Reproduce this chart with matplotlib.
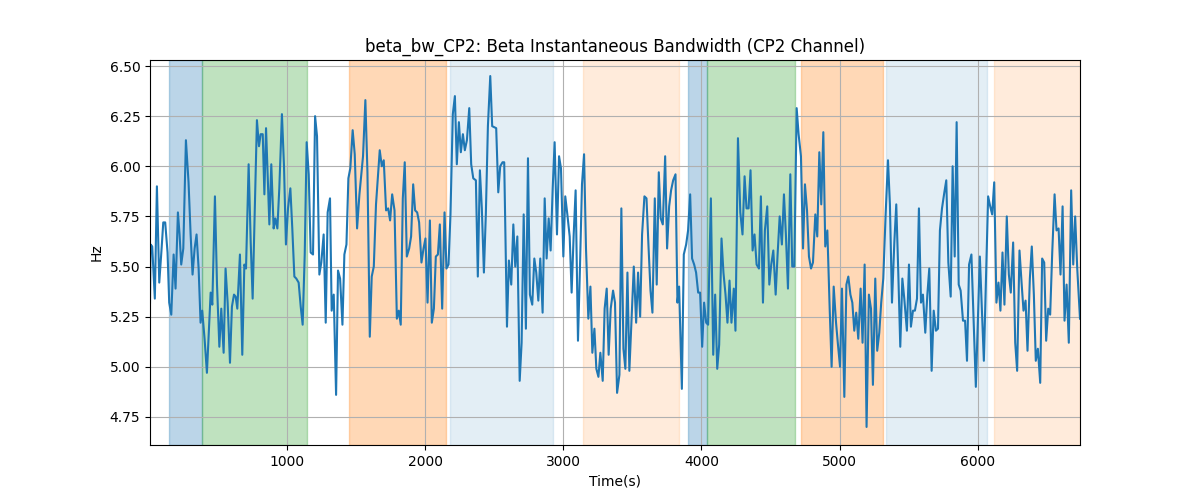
import matplotlib
matplotlib.use("Agg")
import matplotlib.pyplot as plt

# beta bandwidth samples (time in s, value in Hz)
times = [8, 12, 24, 43, 58, 75, 92, 104, 118, 135, 147, 162, 179, 193, 210, 222, 234, 249, 268, 287,
         302, 316, 331, 345, 360, 374, 386, 403, 420, 435, 447, 459, 478, 493, 510, 524, 541, 555, 570, 587,
         601, 616, 628, 640, 659, 676, 691, 703, 722, 737, 751, 766, 782, 797, 809, 824, 836, 848, 872, 886,
         903, 915, 930, 944, 963, 978, 992, 1007, 1024, 1038, 1053, 1067, 1084, 1099, 1113, 1128, 1142, 1157, 1171, 1188,
         1203, 1217, 1234, 1248, 1265, 1280, 1294, 1311, 1323, 1338, 1355, 1369, 1384, 1401, 1415, 1430, 1444, 1458, 1475, 1490,
         1507, 1524, 1550, 1567, 1582, 1599, 1613, 1628, 1644, 1671, 1686, 1700, 1717, 1732, 1746, 1761, 1778, 1795, 1809, 1823,
         1838, 1852, 1867, 1884, 1898, 1913, 1927, 1942, 1956, 1973, 1988, 2002, 2017, 2034, 2048, 2063, 2077, 2092, 2106, 2123,
         2140, 2154, 2169, 2183, 2200, 2215, 2229, 2244, 2258, 2273, 2287, 2302, 2319, 2333, 2348, 2367, 2381, 2396, 2410, 2425,
         2439, 2454, 2471, 2485, 2514, 2529, 2543, 2560, 2572, 2592, 2606, 2623, 2638, 2652, 2667, 2684, 2698, 2713, 2729, 2744,
         2758, 2775, 2790, 2804, 2819, 2833, 2850, 2865, 2879, 2894, 2908, 2923, 2937, 2954, 2969, 2983, 3000, 3014, 3029, 3046,
         3060, 3075, 3089, 3106, 3121, 3135, 3150, 3164, 3181, 3196, 3210, 3225, 3239, 3254, 3268, 3285, 3299, 3314, 3328, 3343,
         3360, 3374, 3389, 3406, 3420, 3435, 3449, 3464, 3478, 3493, 3510, 3527, 3541, 3556, 3570, 3587, 3602, 3616, 3631, 3645,
         3662, 3676, 3691, 3705, 3720, 3737, 3751, 3766, 3780, 3795, 3812, 3826, 3838, 3858, 3872, 3889, 3903, 3918, 3932, 3947,
         3961, 3976, 3990, 4005, 4019, 4034, 4048, 4068, 4085, 4099, 4114, 4128, 4145, 4159, 4174, 4188, 4203, 4217, 4234, 4246,
         4264, 4281, 4297, 4312, 4326, 4341, 4355, 4370, 4384, 4399, 4416, 4430, 4445, 4459, 4476, 4491, 4505, 4520, 4537, 4551,
         4566, 4582, 4597, 4611, 4626, 4643, 4657, 4672, 4689, 4703, 4720, 4735, 4749, 4764, 4778, 4793, 4807, 4824, 4838, 4853,
         4867, 4882, 4896, 4911, 4928, 4942, 4957, 4974, 4988, 5003, 5017, 5034, 5049, 5063, 5078, 5092, 5106, 5120, 5135, 5152,
         5166, 5181, 5195, 5212, 5227, 5241, 5258, 5272, 5287, 5301, 5316, 5333, 5350, 5364, 5379, 5396, 5410, 5425, 5439, 5454,
         5468, 5487, 5502, 5516, 5531, 5545, 5560, 5574, 5589, 5603, 5620, 5635, 5649, 5666, 5681, 5697, 5712, 5726, 5741, 5758,
         5772, 5787, 5804, 5818, 5833, 5847, 5862, 5876, 5893, 5908, 5922, 5937, 5954, 5986, 6015, 6044, 6075, 6090, 6104, 6119,
         6135, 6150, 6164, 6179, 6193, 6210, 6225, 6239, 6256, 6271, 6285, 6302, 6317, 6331, 6346, 6360, 6377, 6391, 6406, 6420,
         6435, 6452, 6466, 6481, 6495, 6510, 6524, 6539, 6556, 6570, 6585, 6599, 6614, 6628, 6643, 6659, 6676, 6691, 6705, 6720,
         6740]
bw_hz = [5.32, 5.61, 5.60, 5.34, 5.90, 5.42, 5.59, 5.72, 5.72, 5.57, 5.32, 5.26, 5.56, 5.39, 5.77, 5.66, 5.51, 5.59, 6.13, 5.92,
         5.66, 5.46, 5.59, 5.66, 5.49, 5.22, 5.28, 5.14, 4.97, 5.19, 5.37, 5.31, 5.85, 5.41, 5.10, 5.29, 5.07, 5.49, 5.32, 5.02,
         5.30, 5.36, 5.35, 5.29, 5.56, 5.06, 5.51, 5.49, 6.01, 5.62, 5.34, 5.76, 6.23, 6.10, 6.16, 6.16, 5.86, 6.19, 5.71, 6.01,
         5.69, 5.74, 5.69, 5.89, 6.26, 6.00, 5.61, 5.79, 5.89, 5.69, 5.45, 5.44, 5.42, 5.30, 5.21, 5.56, 6.12, 5.96, 5.57, 5.56,
         6.25, 6.15, 5.46, 5.52, 5.66, 5.22, 5.77, 5.84, 5.28, 5.36, 4.86, 5.48, 5.44, 5.21, 5.56, 5.61, 5.94, 5.99, 6.18, 6.06,
         5.69, 5.86, 6.05, 6.33, 5.97, 5.15, 5.45, 5.50, 5.81, 6.08, 6.00, 6.03, 5.78, 5.79, 5.73, 5.86, 5.78, 5.24, 5.28, 5.21,
         5.84, 6.02, 5.55, 5.59, 5.65, 5.91, 5.78, 5.77, 5.72, 5.52, 5.59, 5.64, 5.32, 5.73, 5.22, 5.29, 5.55, 5.56, 5.71, 5.29,
         5.77, 5.49, 5.51, 5.76, 6.26, 6.35, 6.01, 6.22, 6.07, 6.16, 6.08, 6.13, 6.29, 6.01, 5.94, 5.93, 5.45, 5.98, 5.79, 5.47,
         5.76, 6.20, 6.45, 6.20, 6.19, 5.87, 6.00, 6.02, 6.02, 5.20, 5.53, 5.41, 5.71, 5.50, 5.65, 4.93, 5.12, 5.76, 5.19, 6.04,
         5.36, 5.31, 5.54, 5.47, 5.33, 5.54, 5.27, 5.84, 5.54, 5.74, 5.58, 5.89, 6.12, 5.66, 6.05, 5.99, 5.55, 5.85, 5.76, 5.65,
         5.37, 5.66, 5.88, 5.13, 5.51, 5.91, 6.06, 5.59, 5.24, 5.40, 5.07, 5.19, 4.99, 4.95, 5.07, 4.93, 5.29, 5.39, 5.06, 5.29,
         5.38, 5.32, 4.87, 4.96, 5.79, 5.09, 4.99, 5.47, 4.98, 5.22, 5.50, 5.22, 5.47, 5.25, 5.66, 5.85, 5.84, 5.61, 5.38, 5.27,
         5.84, 5.41, 5.97, 5.74, 5.71, 6.05, 5.59, 5.80, 5.88, 5.93, 5.96, 5.32, 5.40, 4.89, 5.56, 5.61, 5.68, 5.86, 5.54, 5.51,
         5.47, 5.37, 5.37, 5.10, 5.32, 5.22, 5.21, 5.84, 5.06, 5.36, 4.99, 5.11, 5.64, 5.47, 5.36, 5.22, 5.43, 5.22, 5.39, 5.18,
         6.14, 5.77, 5.66, 5.95, 5.79, 5.79, 5.98, 5.58, 5.66, 5.51, 5.49, 5.85, 5.32, 5.68, 5.80, 5.41, 5.51, 5.58, 5.36, 5.56,
         5.75, 5.61, 5.86, 5.66, 5.39, 5.96, 5.50, 5.50, 6.29, 6.16, 6.05, 5.59, 5.91, 5.78, 5.55, 5.49, 5.52, 5.76, 5.65, 6.07,
         5.81, 6.17, 5.60, 5.68, 5.29, 5.00, 5.40, 5.22, 5.11, 5.00, 5.39, 4.85, 5.41, 5.45, 5.36, 5.32, 5.18, 5.27, 5.14, 5.39,
         5.12, 5.51, 4.70, 5.36, 5.29, 4.91, 5.44, 5.08, 5.17, 5.32, 5.44, 5.76, 6.03, 5.81, 5.32, 5.62, 5.81, 5.46, 5.10, 5.44,
         5.34, 5.18, 5.51, 5.20, 5.28, 5.28, 5.34, 5.79, 5.32, 5.36, 5.17, 5.36, 5.49, 4.98, 5.28, 5.18, 5.19, 5.68, 5.79, 5.87,
         5.93, 5.52, 5.35, 6.00, 5.55, 6.22, 5.41, 5.38, 5.23, 5.23, 5.03, 5.51, 5.56, 4.90, 5.55, 5.03, 5.85, 5.80, 5.76, 5.92,
         5.32, 5.42, 5.28, 5.57, 5.31, 5.75, 5.46, 5.37, 5.62, 5.12, 4.98, 5.58, 5.42, 5.28, 5.33, 5.08, 5.44, 5.60, 5.36, 5.03,
         5.09, 4.92, 5.54, 5.52, 5.13, 5.29, 5.26, 5.57, 5.86, 5.68, 5.69, 5.46, 5.80, 5.23, 5.41, 5.12, 5.88, 5.51, 5.75, 5.49,
         5.24]

# shaded segments: (start, end, colour, alpha)
span_starts = [145, 384, 1449, 2181, 3140, 3900, 4038, 4717, 5338, 6121]
span_ends = [384, 1143, 2150, 2922, 3835, 4038, 4678, 5316, 6070, 6740]
span_colors = ["tab:blue", "tab:green", "tab:orange", "tab:blue", "tab:orange",
               "tab:blue", "tab:green", "tab:orange", "tab:blue", "tab:orange"]
span_alphas = [0.3, 0.3, 0.3, 0.12, 0.15, 0.3, 0.3, 0.3, 0.12, 0.15]

fig, ax = plt.subplots(figsize=(12, 5), dpi=100)
for s, e, c, a in zip(span_starts, span_ends, span_colors, span_alphas):
    ax.axvspan(s, e, color=c, alpha=a)
ax.plot(times, bw_hz, color="tab:blue", linewidth=1.5)

ax.set_xlim(times[0], times[-1])
ax.set_ylim(4.61, 6.53)
ax.set_title("beta_bw_CP2: Beta Instantaneous Bandwidth (CP2 Channel)")
ax.set_xlabel("Time(s)")
ax.set_ylabel("Hz")
ax.grid(True)

fig.savefig("out.png")
